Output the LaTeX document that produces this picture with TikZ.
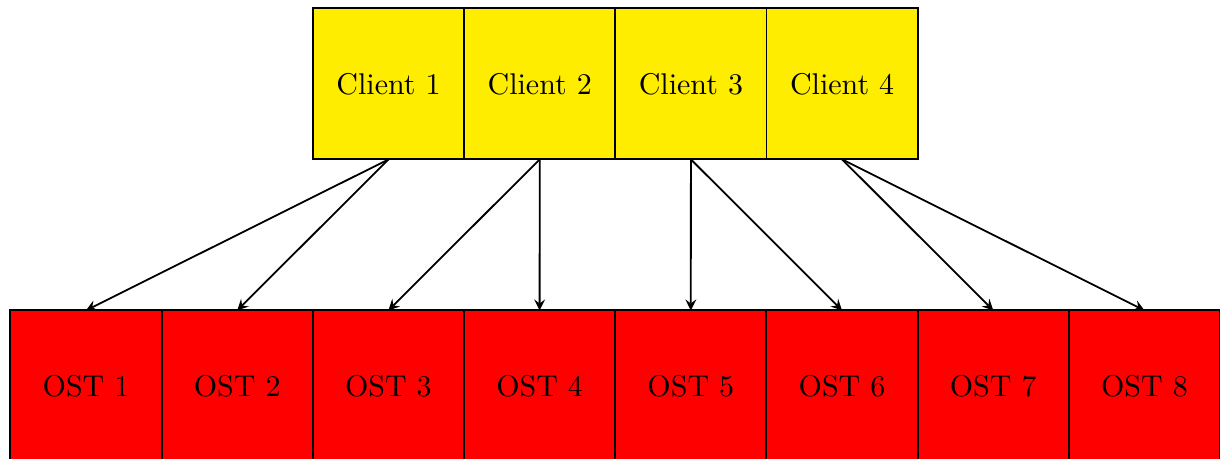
\documentclass[tikz,border=0pt]{standalone}
\usetikzlibrary{arrows}
\definecolor{clientfill}{RGB}{255,237,0}
\definecolor{ostfill}{RGB}{255,0,0}
\begin{document}
\begin{tikzpicture}[x=0.3333pt,y=-0.3333pt,
  box/.style={draw=black, line width=0.65pt, rectangle, minimum width=50.4pt,
    minimum height=50.4pt, inner sep=0pt, outer sep=0pt},
  clientbox/.style={box, fill=clientfill},
  ostbox/.style={box, fill=ostfill},
  link/.style={line width=0.6pt, -stealth}]
\useasboundingbox (0,0) rectangle (1220,459);
% clients
\foreach \i in {1,...,4} {
  \node[clientbox] (c\i) at ({388.5+151.2*(\i-1)},83.8) {Client \i};
}
% object storage targets
\foreach \i in {1,...,8} {
  \node[ostbox] (o\i) at ({86+151.2*(\i-1)},386) {OST \i};
}
% each client writes to two targets
\draw[link] (c1.south) -- (o1.north);
\draw[link] (c1.south) -- (o2.north);
\draw[link] (c2.south) -- (o3.north);
\draw[link] (c2.south) -- (o4.north);
\draw[link] (c3.south) -- (o5.north);
\draw[link] (c3.south) -- (o6.north);
\draw[link] (c4.south) -- (o7.north);
\draw[link] (c4.south) -- (o8.north);
\end{tikzpicture}
\end{document}
